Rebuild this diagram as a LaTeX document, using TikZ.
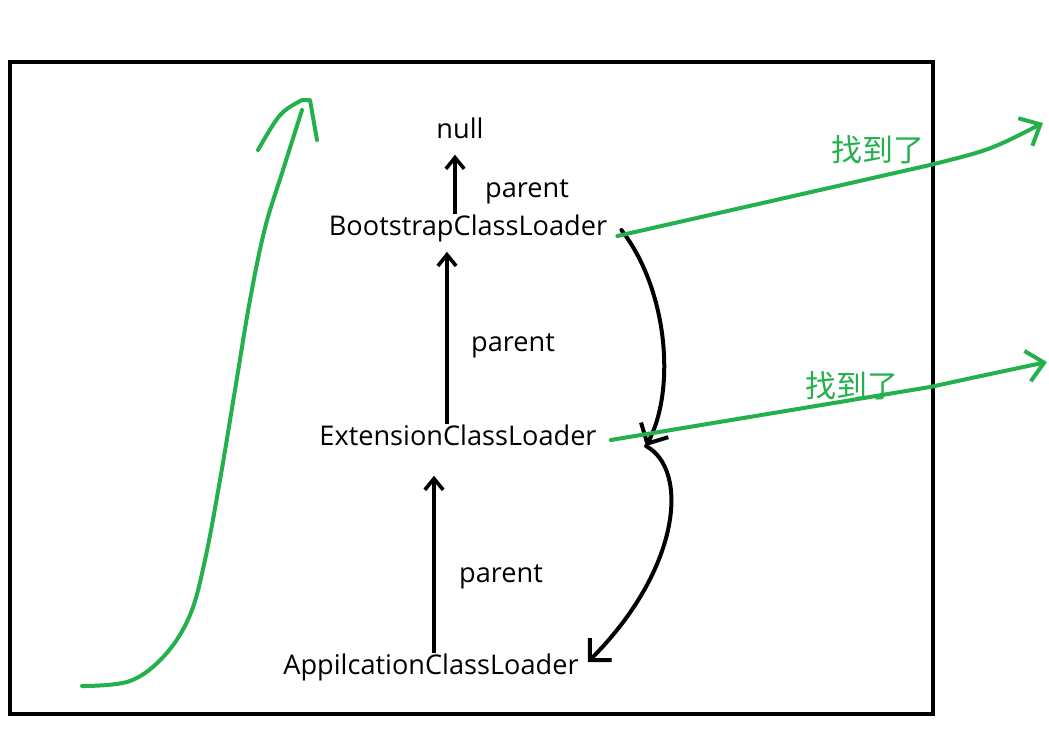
\documentclass[tikz,border=0pt]{standalone}
\usepackage{fontspec}
\setmainfont{Open Sans}
\newfontfamily\cjk{Noto Sans CJK SC}
\usetikzlibrary{calc,arrows.meta}
\definecolor{paintgreen}{RGB}{34,177,76}
\tikzset{
  loader/.style={inner sep=0pt, font=\fontsize{19.3}{22}\selectfont},
  found/.style={inner sep=0pt, text=paintgreen, font=\cjk\fontsize{22}{25}\selectfont},
  parentarrow/.style={line width=0.09cm, -{Straight Barb[length=8pt,width=13pt,line width=0.09cm]}},
  hookarrow/.style={line width=0.1cm, line cap=round, -{Straight Barb[length=11pt,width=22pt,line width=0.1cm]}},
  greenarrow/.style={line width=0.1cm, color=paintgreen, line cap=round, -{Straight Barb[length=12pt,width=22pt,line width=0.1cm]}}
}

\begin{document}
\begin{tikzpicture}[x=0.025cm, y=-0.025cm]
		%%%%% START %%%%%
		\useasboundingbox (0, 0) rectangle (1049, 731);
		\draw[line width=0.1cm] (10, 62) rectangle (933, 714);
		
		\node[loader] (nul) at (460, 128) {null};
		\node[loader] (boot) at (468, 228) {BootstrapClassLoader};
		\node[loader] (ext) at (458, 435) {ExtensionClassLoader};
		\node[loader] (app) at (431, 667) {AppilcationClassLoader};
		
		\node[loader] (par1) at (527, 192) {parent};
		\node[loader] (par2) at (513, 346) {parent};
		\node[loader] (par3) at (501, 577) {parent};
		
		\node[found] (found1) at (878, 150) {找到了};
		\node[found] (found2) at (852, 386) {找到了};
		
		\draw[parentarrow] ($(boot.north)+(-13, 0)$) -- ($(nul.south)+(-5, 16)$);
		\draw[parentarrow] ($(ext.north)+(-11, 0)$) -- ($(boot.south)+(-21, 10)$);
		\draw[parentarrow] ($(app.north)+(3, 0)$) -- ($(ext.south)+(-24, 30)$);
		
		% delegation back down
		\coordinate (hook) at (646, 446);
		\draw[hookarrow] ($(boot.east)+(14, 2)$) .. controls (668, 290) and (676, 390) .. (hook);
		\draw[hookarrow] (hook) .. controls (690, 470) and (680, 570) .. ($(app.east)+(9, -5)$);
		
		% found it
		\coordinate (out1) at (1043, 123);
		\coordinate (out2) at (1047, 362);
		\draw[greenarrow] ($(boot.east)+(10, 8)$) -- (930, 165) .. controls (990, 150) .. (out1);
		\draw[greenarrow] ($(ext.east)+(14, 5)$) -- (930, 387) .. controls (990, 374) .. (out2);
		
		\draw[line width=0.1cm, color=paintgreen, line cap=round] plot[smooth, tension=0.6] coordinates {(82, 686) (130, 681) (165, 655) (190, 615) (205, 560) (220, 480) (235, 390) (250, 300) (265, 228) (283, 170) (302, 110)};
		\draw[line width=0.1cm, color=paintgreen, line cap=round, line join=round] (258, 150) .. controls (280, 112) .. (302, 100) -- (310, 100) -- (317, 140);
		
		%%%%% END %%%%%
\end{tikzpicture}
\end{document}
